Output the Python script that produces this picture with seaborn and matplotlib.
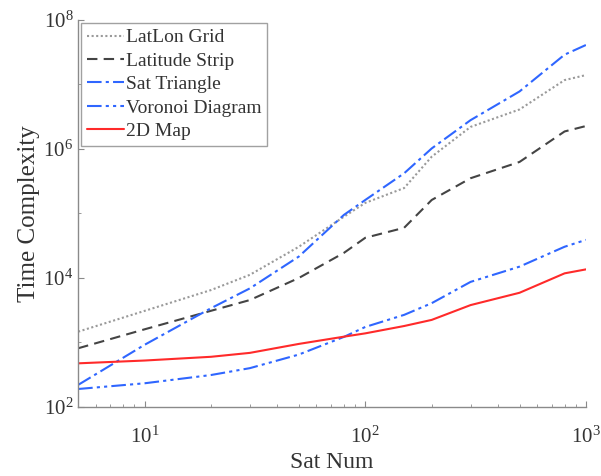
import numpy as np
import matplotlib
matplotlib.use("Agg")
import matplotlib.pyplot as plt
from matplotlib.ticker import NullFormatter
import seaborn as sns
import pandas as pd

# サンプル数（x軸）
sat_num = [5, 10, 20, 30, 50, 80, 100, 150, 200, 300, 500, 800, 1000]

# 各手法の計算量
latlon_grid = [1470, 3090, 6500, 11200, 30500, 89000, 146000, 248000, 760000, 2.2e6, 4.1e6, 1.17e7, 1.4e7]
latitude_strip = [813, 1600, 3100, 4550, 10000, 24500, 42000, 60000, 162000, 352000, 630000, 1.87e6, 2.27e6]
sat_triangle = [220, 920, 3400, 6900, 21500, 95000, 162000, 420000, 1.02e6, 2.8e6, 7.8e6, 2.9e7, 4.1e7]
voronoi = [190, 233, 313, 400, 650, 1220, 1740, 2680, 4070, 8700, 15000, 30500, 39000]
map_2d = [475, 525, 600, 690, 950, 1230, 1385, 1800, 2240, 3800, 5900, 11800, 13600]

labels = ["LatLon Grid", "Latitude Strip", "Sat Triangle", "Voronoi Diagram", "2D Map"]
series = [latlon_grid, latitude_strip, sat_triangle, voronoi, map_2d]

colors = {"LatLon Grid": "#9a9a9a", "Latitude Strip": "#444444", "Sat Triangle": "#2f66ff",
          "Voronoi Diagram": "#2f66ff", "2D Map": "#ff2a2a"}
dashes = {"LatLon Grid": (1, 1.2), "Latitude Strip": (5, 3), "Sat Triangle": (7, 2, 1.5, 2),
          "Voronoi Diagram": (7, 2, 1.5, 2, 1.5, 2), "2D Map": ""}

df = pd.DataFrame({
    "Sat Num": np.tile(sat_num, len(labels)),
    "Time Complexity": np.concatenate(series),
    "method": np.repeat(labels, len(sat_num)),
})

sns.set_style("ticks")
plt.rcParams['font.family'] = ['Liberation Serif', 'DejaVu Serif']
plt.rcParams['mathtext.fontset'] = 'stix'
plt.rcParams['xtick.direction'] = 'in'
plt.rcParams['ytick.direction'] = 'in'

fig = plt.figure(figsize=(6.01, 4.76), dpi=100)
ax = fig.add_axes([0.130, 0.145, 0.845, 0.813])

sns.lineplot(data=df, x="Sat Num", y="Time Complexity", hue="method", style="method",
             palette=colors, dashes=dashes, hue_order=labels, style_order=labels,
             linewidth=1.5, ax=ax)

ax.set_xscale("log")
ax.set_yscale("log")
ax.set_xlim(5, 1000)
ax.set_ylim(1e2, 1e8)
ax.set_yticks([1e2, 1e4, 1e6, 1e8])
ax.set_yticks([1e3, 1e5, 1e7], minor=True)
ax.yaxis.set_minor_formatter(NullFormatter())
ax.xaxis.set_minor_formatter(NullFormatter())

text_color = "#333333"
spine_color = "#8a8a8a"
for side in ["top", "right"]:
    ax.spines[side].set_visible(False)
for side in ["left", "bottom"]:
    ax.spines[side].set_color(spine_color)
    ax.spines[side].set_linewidth(1.0)
ax.tick_params(axis="both", which="major", labelsize=15, colors=spine_color, labelcolor=text_color,
               length=4, width=0.8)
ax.tick_params(axis="both", which="minor", colors=spine_color, length=2.5, width=0.6)
ax.tick_params(axis="x", which="major", pad=14)

ax.set_xlabel("Sat Num", fontsize=17, color=text_color, labelpad=3)
ax.set_ylabel("Time Complexity", fontsize=18, color=text_color, labelpad=2)

leg = ax.legend(loc="upper left", fontsize=14, frameon=True, fancybox=False,
                handlelength=1.9, handletextpad=0.1, labelspacing=0.3,
                borderpad=0.3, borderaxespad=0.15)
leg.get_frame().set_edgecolor(spine_color)
leg.get_frame().set_linewidth(1.0)
for t in leg.get_texts():
    t.set_color(text_color)

plt.savefig("out.png", dpi=100)
plt.close()
